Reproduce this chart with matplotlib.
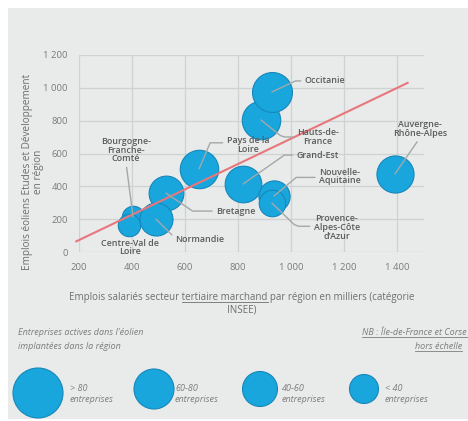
import numpy as np
import matplotlib
matplotlib.use("Agg")
import matplotlib.pyplot as plt
from matplotlib.patches import Rectangle, Circle
from matplotlib.lines import Line2D
from matplotlib.transforms import IdentityTransform

# ---------------- data ----------------
regions = ["Hauts-de-\nFrance", "Occitanie", "Pays de la\nLoire", "Grand-Est",
           "Nouvelle-\nAquitaine", "Provence-\nAlpes-Côte\nd'Azur",
           "Auvergne-\nRhône-Alpes", "Bourgogne-\nFranche-\nComté",
           "Centre-Val de\nLoire", "Bretagne", "Normandie"]
tertiary_jobs = [887, 928, 653, 819, 936, 928, 1392, 404, 389, 528, 491]
wind_rd_jobs = [804, 975, 506, 414, 341, 298, 475, 213, 164, 359, 200]
companies = [88, 95, 88, 80, 58, 42, 82, 30, 30, 72, 65]

trend_x = [190, 1440]
trend_y = [65, 1030]

x_ticks = [200, 400, 600, 800, 1000, 1200, 1400]
x_tick_labels = ["200", "400", "600", "800", "1 000", "1 200", "1 400"]
y_ticks = [0, 200, 400, 600, 800, 1000, 1200]
y_tick_labels = ["0", "200", "400", "600", "800", "1 000", "1 200"]

legend_labels = ["> 80\nentreprises", "60-80\nentreprises",
                 "40-60\nentreprises", "< 40\nentreprises"]

# ---------------- styles / layout ----------------
W, H, DPI = 468, 421, 100
BG = "#e9eaea"
BUBBLE = "#18a6dc"
BEDGE = "#1787ba"
GRID = "#cfd2d2"
TICKC = "#7b7b7b"
LABC = "#5a5a5a"
NOTEC = "#7d7d7d"
FONT = "Open Sans"
plt.rcParams["font.family"] = [FONT, "DejaVu Sans"]

# label layout: offset (px, x right / y up) of text from bubble centre,
# horizontal alignment, relpos of leader start, connection style (None = no leader)
label_layout = [
    ((57, -17), "center", (0.0, 0.5), "angle,angleA=0,angleB=-39,rad=4"),
    ((33, 11), "left", (0.0, 0.5), "angle,angleA=0,angleB=25,rad=0"),
    ((49, 24), "center", (0.0, 0.62), "angle,angleA=0,angleB=67,rad=0"),
    ((75, 29), "center", (0.0, 0.5), "angle,angleA=0,angleB=35,rad=0"),
    ((66, 19.5), "center", (0.0, 0.45), "angle,angleA=0,angleB=40,rad=0"),
    ((65, -24.5), "center", (0.0, 0.55), "angle,angleA=0,angleB=-44,rad=4"),
    ((25, 45), "center", (0.5, 0.0), "arc3,rad=0"),
    ((-7, 67), "center", (0.5, 0.0), "arc3,rad=0"),
    ((1, -22.5), "center", (0.5, 0.5), None),
    ((70, -18), "center", (0.0, 0.5), "angle,angleA=0,angleB=-34,rad=0"),
    ((44, -20), "center", (0.0, 0.5), "angle,angleA=0,angleB=-45,rad=0"),
]

fig = plt.figure(figsize=(W / DPI, H / DPI), dpi=DPI)
fig.patch.set_facecolor("white")

# overlay axes in pixel coordinates (background, notes, legend)
ov = fig.add_axes([0, 0, 1, 1], zorder=0)
ov.set_xlim(0, W)
ov.set_ylim(H, 0)
ov.set_axis_off()
ov.add_patch(Rectangle((8, 8), W - 8, 411, facecolor=BG, edgecolor="none", zorder=0))

# main axes
ax = fig.add_axes([79 / W, 1 - 252 / H, (423.5 - 79) / W, 197 / H], zorder=1)
ax.set_facecolor("none")
ax.set_xlim(200, 1500)
ax.set_ylim(0, 1200)
for s in ax.spines.values():
    s.set_visible(False)
ax.set_xticks(x_ticks)
ax.set_xticklabels(x_tick_labels)
ax.set_yticks(y_ticks)
ax.set_yticklabels(y_tick_labels)
ax.tick_params(length=0, colors=TICKC, labelsize=6.8)
ax.tick_params(axis="y", pad=8)
ax.tick_params(axis="x", pad=8)
ax.grid(True, color=GRID, linewidth=0.9)
ax.set_axisbelow(True)

# bubbles
radius_px = 2.05 * np.sqrt(np.array(companies, dtype=float))
sizes = (2 * radius_px * 72 / DPI) ** 2
for i in range(len(regions)):
    ax.scatter([tertiary_jobs[i]], [wind_rd_jobs[i]], s=[sizes[i]], color=BUBBLE,
               edgecolor=BEDGE, linewidth=0.8, zorder=2 + i * 0.01, clip_on=False)

# trend line
ax.plot(trend_x, trend_y, color="#e7777d", linewidth=1.5, zorder=2.5, clip_on=False)

# labels with leader lines
for i, name in enumerate(regions):
    (dx, dy), ha, relpos, cs = label_layout[i]
    arrow = None
    if cs is not None:
        arrow = dict(arrowstyle="-", color="#a4a8aa", linewidth=1.0,
                     connectionstyle=cs, relpos=relpos, shrinkA=1, shrinkB=0)
    ax.annotate(name, xy=(tertiary_jobs[i], wind_rd_jobs[i]), xytext=(dx, dy),
                textcoords="offset pixels", ha=ha, va="center",
                multialignment="center", fontsize=6.4, fontweight="semibold",
                color=LABC, linespacing=0.95, arrowprops=arrow,
                annotation_clip=False, zorder=3)

# y label
ov.text(33, 172, "Emplois éoliens Etudes et Développement\nen région", rotation=90,
        ha="center", va="center", multialignment="center", fontsize=7.2,
        color="#6e6e6e", linespacing=1.0)

# x label (first line has an underlined part)
xl1 = ov.text(242, 300, "Emplois salariés secteur tertiaire marchand par région en milliers (catégorie",
              ha="center", va="baseline", fontsize=7, color="#6e6e6e")
ov.text(242, 313, "INSEE)", ha="center", va="baseline", fontsize=7, color="#6e6e6e")

# notes
ov.text(18, 335, "Entreprises actives dans l'éolien", ha="left", va="baseline",
        fontsize=6.5, style="italic", color=NOTEC)
ov.text(18, 349, "implantées dans la région", ha="left", va="baseline",
        fontsize=6.5, style="italic", color=NOTEC)
nb1 = ov.text(467, 335, "NB : Île-de-France et Corse", ha="right", va="baseline",
              fontsize=6.5, style="italic", color=NOTEC)
nb2 = ov.text(462, 349, "hors échelle", ha="right", va="baseline",
              fontsize=6.5, style="italic", color=NOTEC)

# size legend
legend_centres = [(38, 393), (154, 389), (260, 389), (364, 389)]
legend_radii = [25, 20, 17.5, 14.5]
legend_text_x = [70, 175, 282, 385]
for (cx, cy), r, tx, lab in zip(legend_centres, legend_radii, legend_text_x, legend_labels):
    ov.add_patch(Circle((cx, cy), r, facecolor=BUBBLE, edgecolor=BEDGE, linewidth=0.8, zorder=2))
    ov.text(tx, 394, lab, ha="left", va="center", fontsize=6.5, style="italic",
            color=NOTEC, linespacing=1.35)


def underline(txt, sub=None):
    fig.canvas.draw()
    r = fig.canvas.get_renderer()
    bb = txt.get_window_extent(r)
    prop = txt.get_fontproperties()
    s = txt.get_text()
    if sub is None:
        x0, x1 = bb.x0, bb.x1
    else:
        i = s.index(sub)
        w_end = r.get_text_width_height_descent(s[:i + len(sub)], prop, ismath=False)[0]
        w_sub = r.get_text_width_height_descent(sub, prop, ismath=False)[0]
        x1 = bb.x0 + w_end
        x0 = x1 - w_sub
    yb = txt.get_transform().transform(txt.get_position())[1] - 1.6
    fig.add_artist(Line2D([x0, x1], [yb, yb], transform=IdentityTransform(),
                          color=txt.get_color(), linewidth=0.6))


underline(xl1, "tertiaire marchand")
underline(nb1)
underline(nb2)

fig.savefig("out.png", dpi=DPI, facecolor="white")
